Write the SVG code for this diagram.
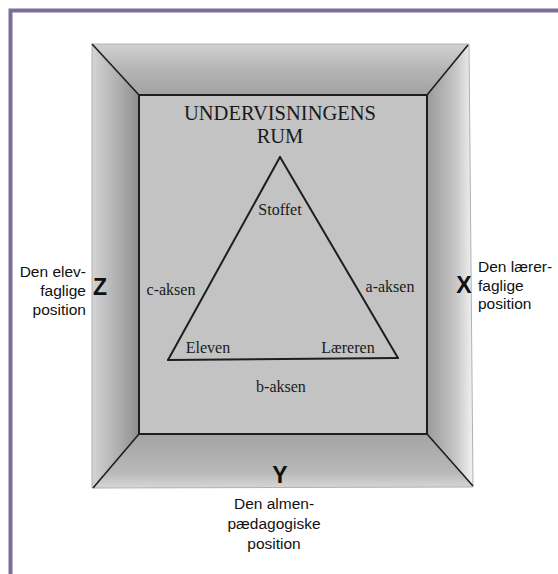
<svg xmlns="http://www.w3.org/2000/svg" width="558" height="574" viewBox="0 0 558 574">
<style>
.serif{font-family:"Liberation Serif","Times New Roman",serif;fill:#1a1a1a}
.sans{font-family:"Liberation Sans",Arial,sans-serif;fill:#111}
.big{font-family:"Liberation Sans",Arial,sans-serif;font-weight:bold;font-size:23px;fill:#111}
.edge{stroke:#1e1e1e;stroke-width:1.6;fill:none}
.axis{stroke:#1e1e1e;stroke-width:2;fill:none;stroke-linecap:round}
</style>
<defs>
<linearGradient id="gTop" x1="0" y1="44" x2="0" y2="96" gradientUnits="userSpaceOnUse">
<stop offset="0" stop-color="#d2d2d2"/><stop offset="0.5" stop-color="#b4b4b4"/><stop offset="1" stop-color="#a2a2a2"/>
</linearGradient>
<linearGradient id="gLeft" x1="92" y1="0" x2="139" y2="0" gradientUnits="userSpaceOnUse">
<stop offset="0" stop-color="#d4d4d4"/><stop offset="0.6" stop-color="#acacac"/><stop offset="1" stop-color="#8e8e8e"/>
</linearGradient>
<linearGradient id="gRight" x1="427" y1="0" x2="473" y2="0" gradientUnits="userSpaceOnUse">
<stop offset="0" stop-color="#9a9a9a"/><stop offset="0.6" stop-color="#c4c4c4"/><stop offset="1" stop-color="#f2f2f2"/>
</linearGradient>
<linearGradient id="gBottom" x1="0" y1="434" x2="0" y2="488" gradientUnits="userSpaceOnUse">
<stop offset="0" stop-color="#a4a4a4"/><stop offset="0.7" stop-color="#b8b8b8"/><stop offset="1" stop-color="#d6d6d6"/>
</linearGradient>
</defs>
<rect width="558" height="574" fill="#ffffff"/>
<rect x="10.5" y="10.5" width="560" height="580" fill="none" stroke="#7d6a9e" stroke-width="4"/>

<g id="room">
<polygon points="92,44 469,44 427,95 139,95" fill="url(#gTop)"/>
<polygon points="92,44 139,95 139,434 92,488" fill="url(#gLeft)"/>
<polygon points="469,44 473,487 427,434 427,95" fill="url(#gRight)"/>
<polygon points="139,434 427,434 473,487 92,488" fill="url(#gBottom)"/>
<rect x="139" y="95" width="288" height="339" fill="#c3c3c3"/>
<polygon points="92,44 469,44 473,487 92,488" fill="none" stroke="#b0b0b0" stroke-width="1"/>
<line class="edge" x1="92" y1="44" x2="139" y2="95"/>
<line class="edge" x1="468" y1="45" x2="427" y2="95"/>
<line class="edge" x1="427" y1="434" x2="473" y2="486"/>
<line class="edge" x1="139" y1="434" x2="93" y2="488"/>
<rect x="139" y="95" width="288" height="339" fill="none" stroke="#1e1e1e" stroke-width="2"/>
<text class="serif" x="280" y="120" font-size="20.5" text-anchor="middle">UNDERVISNINGENS</text>
<text class="serif" x="280" y="143" font-size="20.5" text-anchor="middle">RUM</text>
</g>

<g id="connectors">
<line id="c-axis" class="axis" x1="280" y1="157" x2="168" y2="360"/>
<line id="a-axis" class="axis" x1="280" y1="157" x2="398" y2="358"/>
<line id="b-axis" class="axis" x1="168" y1="360" x2="398" y2="358"/>
<text class="serif" x="171" y="295" font-size="16" text-anchor="middle">c-aksen</text>
<text class="serif" x="390" y="292" font-size="16" text-anchor="middle">a-aksen</text>
<text class="serif" x="281" y="392" font-size="16" text-anchor="middle">b-aksen</text>
</g>

<g id="stoffet"><text class="serif" x="280" y="215" font-size="16" text-anchor="middle">Stoffet</text></g>
<g id="eleven"><text class="serif" x="208" y="353" font-size="16" text-anchor="middle">Eleven</text></g>
<g id="laereren"><text class="serif" x="348" y="353" font-size="16" text-anchor="middle">Læreren</text></g>

<g id="pos-z">
<text class="big" x="100" y="295" text-anchor="middle">Z</text>
<text class="sans" font-size="15.5" text-anchor="end"><tspan x="86" y="277">Den elev-</tspan><tspan x="86" y="296">faglige</tspan><tspan x="86" y="315">position</tspan></text>
</g>
<g id="pos-x">
<text class="big" x="464" y="293" text-anchor="middle">X</text>
<text class="sans" font-size="15.5"><tspan x="478" y="272">Den lærer-</tspan><tspan x="478" y="291">faglige</tspan><tspan x="478" y="309">position</tspan></text>
</g>
<g id="pos-y">
<text class="big" x="280" y="483" text-anchor="middle">Y</text>
<text class="sans" font-size="15.5" text-anchor="middle"><tspan x="274" y="509">Den almen-</tspan><tspan x="274" y="529">pædagogiske</tspan><tspan x="274" y="549">position</tspan></text>
</g>
</svg>
